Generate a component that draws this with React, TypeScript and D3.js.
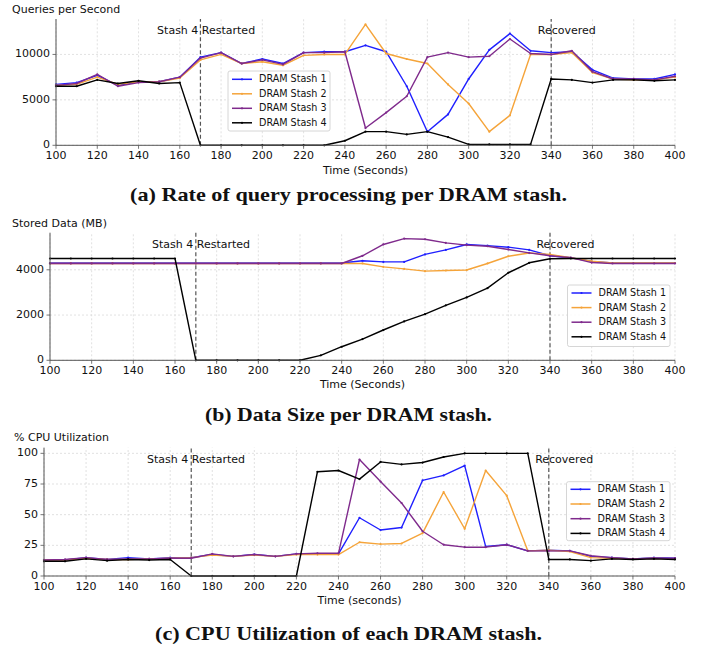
import React from "react";
import * as d3 from "d3";

const times = [100, 110, 120, 130, 140, 150, 160, 170, 180, 190, 200, 210, 220, 230, 240, 250, 260, 270, 280, 290, 300, 310, 320, 330, 340, 350, 360, 370, 380, 390, 400];
const seriesNames = ["DRAM Stash 1", "DRAM Stash 2", "DRAM Stash 3", "DRAM Stash 4"];
const seriesColors = ["#1f1fff", "#f5a43a", "#7f2a8c", "#000000"];
const xTicks = [100, 120, 140, 160, 180, 200, 220, 240, 260, 280, 300, 320, 340, 360, 380, 400];

// (a) queries per second
const qps1 = [6700, 6900, 7700, 6600, 7000, 7000, 7500, 9700, 10200, 9000, 9500, 9000, 10200, 10300, 10300, 11000, 10300, 6500, 1500, 3400, 7300, 10500, 12300, 10400, 10200, 10300, 8300, 7400, 7300, 7300, 7800];
const qps2 = [6600, 6700, 7500, 6700, 7000, 7000, 7400, 9400, 10000, 9000, 9200, 8800, 9900, 10000, 10000, 13300, 10100, 9500, 9000, 6700, 4600, 1500, 3300, 10000, 10000, 10200, 8000, 7300, 7200, 7200, 7500];
const qps3 = [6600, 6800, 7800, 6500, 6900, 7000, 7500, 9600, 10200, 9000, 9400, 8900, 10200, 10200, 10300, 1900, 3600, 5400, 9700, 10200, 9700, 9800, 11700, 10100, 10000, 10400, 8100, 7300, 7300, 7200, 7600];
const qps4 = [6500, 6500, 7200, 6800, 7100, 6800, 6900, 0, 0, 0, 0, 0, 0, 0, 500, 1500, 1500, 1200, 1500, 900, 100, 100, 100, 100, 7300, 7200, 6900, 7200, 7200, 7100, 7200];
const qpsTicks = [0, 5000, 10000];

// (b) stored data MB
const mb1 = [4300, 4300, 4300, 4300, 4300, 4300, 4300, 4300, 4300, 4300, 4300, 4300, 4300, 4300, 4300, 4400, 4350, 4350, 4680, 4880, 5120, 5070, 5000, 4880, 4620, 4530, 4370, 4300, 4300, 4300, 4300];
const mb2 = [4280, 4280, 4280, 4280, 4280, 4280, 4280, 4280, 4280, 4280, 4280, 4280, 4280, 4280, 4280, 4280, 4130, 4040, 3940, 3970, 3990, 4280, 4600, 4740, 4680, 4530, 4380, 4300, 4300, 4300, 4300];
const mb3 = [4280, 4280, 4280, 4280, 4280, 4280, 4280, 4280, 4280, 4280, 4280, 4280, 4280, 4280, 4280, 4620, 5120, 5380, 5350, 5190, 5090, 5040, 4900, 4750, 4620, 4540, 4320, 4280, 4280, 4280, 4280];
const mb4 = [4500, 4500, 4500, 4500, 4500, 4500, 4500, 0, 0, 0, 0, 0, 0, 220, 600, 940, 1340, 1720, 2040, 2430, 2780, 3190, 3870, 4310, 4490, 4500, 4500, 4500, 4500, 4500, 4500];
const mbTicks = [0, 2000, 4000];

// (c) CPU utilization
const cpu1 = [13, 13, 15, 13.5, 15, 14, 15, 15, 17.5, 16, 17.5, 16, 18, 18, 18, 47.5, 37.5, 39.5, 78, 82, 90, 24, 25.5, 20.5, 21, 20.5, 16, 15, 14, 15, 14.5];
const cpu2 = [13, 13, 14.5, 13.5, 13.5, 14, 14.5, 15, 17, 16, 17, 16, 17.5, 17.5, 17.5, 27.5, 26, 26.5, 35, 68.5, 38.5, 86, 65.5, 20.5, 21, 20, 15, 14.5, 14, 14.5, 14];
const cpu3 = [13, 13.5, 15, 13.5, 14, 14, 14.5, 14.5, 18, 16, 17.5, 16, 18, 18.5, 18.5, 95, 77, 59.5, 36.5, 25.5, 23.5, 23.5, 25.5, 20.5, 20.5, 20.5, 16.5, 15, 14, 14.5, 14.5];
const cpu4 = [12, 12, 14, 12.5, 13.5, 13, 13.5, 0, 0, 0, 0, 0, 0, 85, 86, 79, 93, 91, 92.5, 97, 100, 100, 100, 100, 13.5, 13.5, 12.5, 14, 13.5, 14, 13.5];
const cpuTicks = [0, 25, 50, 75, 100];

const restartTime = 170;
const recoverTime = 340;
const restartLabel = "Stash 4 Restarted";
const recoverLabel = "Recovered";
const captions = [
  "(a) Rate of query processing per DRAM stash.",
  "(b) Data Size per DRAM stash.",
  "(c) CPU Utilization of each DRAM stash.",
];

const FONT = "'DejaVu Sans', sans-serif";

type PanelProps = {
  series: number[][];
  yTicks: number[];
  yMax: number;
  left: number;
  right: number;
  top: number;
  bottom: number;
  yLabel: string;
  yLabelX: number;
  yLabelY: number;
  xLabel: string;
  xLabelY: number;
  legend: { x: number; y: number; w: number; h: number; first: number; step: number };
};

function Panel(p: PanelProps) {
  const x = d3.scaleLinear().domain([100, 400]).range([p.left, p.right]);
  const y = d3.scaleLinear().domain([0, p.yMax]).range([p.bottom, p.top]);
  const line = d3
    .line<number>()
    .x((_, i) => x(times[i]))
    .y((d) => y(d));
  const ax = "#555";
  return (
    <g fontFamily={FONT}>
      {/* grid */}
      {xTicks.map((t) => (
        <line key={"gx" + t} x1={x(t)} x2={x(t)} y1={p.bottom} y2={p.top} stroke="#d9d9d9" strokeWidth={0.8} strokeDasharray="2,2" />
      ))}
      {p.yTicks.map((t) => (
        <line key={"gy" + t} x1={p.left} x2={p.right} y1={y(t)} y2={y(t)} stroke="#d9d9d9" strokeWidth={0.8} strokeDasharray="2,2" />
      ))}
      {/* event lines */}
      {[restartTime, recoverTime].map((t) => (
        <line key={"ev" + t} x1={x(t)} x2={x(t)} y1={p.bottom} y2={p.top} stroke="#555" strokeWidth={1.2} strokeDasharray="4,2.5" />
      ))}
      <text x={x(149)} y={p.top + 12} fontSize={11} dominantBaseline="middle" fill="#111">{restartLabel}</text>
      <text x={x(333.5)} y={p.top + 12} fontSize={11} dominantBaseline="middle" fill="#111">{recoverLabel}</text>
      {/* series */}
      {p.series.map((s, k) => (
        <g key={"s" + k}>
          <path d={line(s) || ""} fill="none" stroke={seriesColors[k]} strokeWidth={1.4} strokeLinejoin="round" />
          {s.map((v, i) => (
            <circle key={i} cx={x(times[i])} cy={y(v)} r={1.1} fill={seriesColors[k]} />
          ))}
        </g>
      ))}
      {/* axes */}
      <line x1={p.left} x2={p.right} y1={p.bottom} y2={p.bottom} stroke={ax} strokeWidth={1} />
      <line x1={p.left} x2={p.left} y1={p.bottom} y2={p.top} stroke={ax} strokeWidth={1} />
      {xTicks.map((t) => (
        <g key={"xt" + t}>
          <line x1={x(t)} x2={x(t)} y1={p.bottom} y2={p.bottom + 3.5} stroke={ax} strokeWidth={0.8} />
          <text x={x(t)} y={p.bottom + 11} fontSize={11} textAnchor="middle" dominantBaseline="middle" fill="#111">{t}</text>
        </g>
      ))}
      {p.yTicks.map((t) => (
        <g key={"yt" + t}>
          <line x1={p.left - 3.5} x2={p.left} y1={y(t)} y2={y(t)} stroke={ax} strokeWidth={0.8} />
          <text x={p.left - 6} y={y(t)} fontSize={11} textAnchor="end" dominantBaseline="middle" fill="#111">{t}</text>
        </g>
      ))}
      <text x={p.yLabelX} y={p.yLabelY} fontSize={11} dominantBaseline="middle" fill="#111">{p.yLabel}</text>
      <text x={(p.left + p.right) / 2} y={p.xLabelY} fontSize={11} textAnchor="middle" dominantBaseline="middle" fill="#111">{p.xLabel}</text>
      {/* legend */}
      <rect x={p.legend.x} y={p.legend.y} width={p.legend.w} height={p.legend.h} rx={2} fill="#fff" fillOpacity={0.85} stroke="#ccc" strokeWidth={0.8} />
      {seriesNames.map((n, k) => {
        const yy = p.legend.first + k * p.legend.step;
        return (
          <g key={"lg" + k}>
            <line x1={p.legend.x + 4} x2={p.legend.x + 24} y1={yy} y2={yy} stroke={seriesColors[k]} strokeWidth={1.5} />
            <circle cx={p.legend.x + 14} cy={yy} r={1.1} fill={seriesColors[k]} />
            <text x={p.legend.x + 31} y={yy} fontSize={9.6} dominantBaseline="middle" fill="#111">{n}</text>
          </g>
        );
      })}
    </g>
  );
}

export default function App() {
  return (
    <svg width={714} height={647} style={{ position: "absolute", left: 0, top: 0, background: "#fff" }}>
      <Panel
        series={[qps1, qps2, qps3, qps4]}
        yTicks={qpsTicks}
        yMax={13900}
        left={56}
        right={675}
        top={19}
        bottom={145.3}
        yLabel="Queries per Second"
        yLabelX={12}
        yLabelY={10}
        xLabel="Time (Seconds)"
        xLabelY={171}
        legend={{ x: 228, y: 71, w: 102, h: 60, first: 79.3, step: 14.5 }}
      />
      <Panel
        series={[mb1, mb2, mb3, mb4]}
        yTicks={mbTicks}
        yMax={5640}
        left={50}
        right={675}
        top={232.7}
        bottom={360.3}
        yLabel="Stored Data (MB)"
        yLabelX={12}
        yLabelY={224}
        xLabel="Time (Seconds)"
        xLabelY={385}
        legend={{ x: 567.5, y: 285, w: 102.5, h: 61.5, first: 293, step: 14.6 }}
      />
      <Panel
        series={[cpu1, cpu2, cpu3, cpu4]}
        yTicks={cpuTicks}
        yMax={104.6}
        left={44}
        right={675}
        top={447.7}
        bottom={576}
        yLabel="% CPU Utilization"
        yLabelX={14}
        yLabelY={438}
        xLabel="Time (seconds)"
        xLabelY={601}
        legend={{ x: 566.5, y: 481.7, w: 103.5, h: 59, first: 489.3, step: 14.7 }}
      />
      <g fontFamily="'Liberation Serif', serif" fontWeight="bold" fontSize={19} fill="#111">
        <text x={130} y={201} textLength={437} lengthAdjust="spacingAndGlyphs">{captions[0]}</text>
        <text x={205} y={421} textLength={287} lengthAdjust="spacingAndGlyphs">{captions[1]}</text>
        <text x={155} y={640} textLength={387} lengthAdjust="spacingAndGlyphs">{captions[2]}</text>
      </g>
    </svg>
  );
}
